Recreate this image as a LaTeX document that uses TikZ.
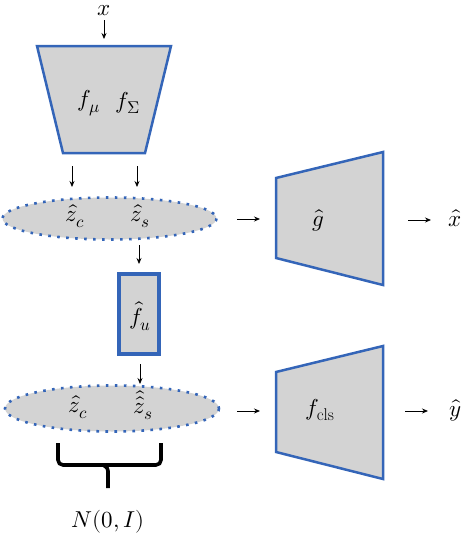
\documentclass[tikz,border=0pt]{standalone}
\usepackage{unicode-math}
\setmathfont{Latin Modern Math}
\DeclareMathSizes{23}{23}{17}{13}
\usetikzlibrary{arrows.meta}
\definecolor{bblue}{RGB}{52,101,184}
\definecolor{bgray}{RGB}{211,211,211}
\begin{document}
\begin{tikzpicture}[x=1pt,y=-1pt,
  lbl/.style={inner sep=0pt,font=\fontsize{23}{26}\selectfont},
  arr/.style={-{Stealth[length=6pt,width=5pt]},line width=0.8pt,black},
  boxshape/.style={fill=bgray,draw=bblue,line width=2.5pt,line join=miter},
  dotell/.style={fill=bgray,draw=bblue,line width=2.6pt,dash pattern=on 2.6pt off 6.4pt}]
\useasboundingbox (0,0) rectangle (464,542);
% encoder
\draw[boxshape] (37,46) -- (171,46) -- (145,153) -- (63,153) -- cycle;
\node[lbl] (fmu) at (89,103) {$f_{\mu}$};
\node[lbl] (fsig) at (128,103) {$f_{\Sigma}$};
\node[lbl] (x) at (104,11) {$x$};
\coordinate (xa) at (104,20);
\coordinate (xb) at (104,39);
\draw[arr] (xa) -- (xb);
\coordinate (e1a) at (72,166); \coordinate (e1b) at (72,187);
\coordinate (e2a) at (137,166); \coordinate (e2b) at (137,187);
\draw[arr] (e1a) -- (e1b);
\draw[arr] (e2a) -- (e2b);
% ellipse 1
\draw[dotell] (109.5,218.5) ellipse [x radius=107, y radius=21];
\node[lbl] (zc1) at (75,216) {$\hat{z}_{c}$};
\node[lbl] (zs1) at (140,216) {$\hat{z}_{s}$};
% arrow to fu
\coordinate (fa) at (139,245); \coordinate (fb) at (139,264);
\draw[arr] (fa) -- (fb);
\draw[fill=bgray,draw=bblue,line width=4pt] (119,274) rectangle (159,354);
\node[lbl] (fu) at (140,316) {$\hat{f}_{u}$};
\coordinate (ga) at (140,364); \coordinate (gb) at (140,384);
\draw[arr] (ga) -- (gb);
% ellipse 2
\draw[dotell] (112,408.5) ellipse [x radius=107, y radius=23];
\node[lbl] (zc2) at (78,407) {$\hat{z}_{c}$};
\node[lbl] (zs2) at (143,405) {$\hat{\hat{z}}_{s}$};
% brace
\draw[line width=3.6pt,line cap=butt,rounded corners=5pt] (58,443) -- (58,465) -- (161,465) -- (161,443);
\draw[line width=3.6pt,rounded corners=3pt] (103,465) -- (108,468) -- (108,488);
\node[lbl] (N) at (108,522) {$N(0,I)$};
% decoder g
\draw[boxshape] (276,178) -- (383,152) -- (383,285) -- (276,258) -- cycle;
\node[lbl] (g) at (318,220) {$\hat{g}$};
\coordinate (h1a) at (237,219); \coordinate (h1b) at (260,219);
\draw[arr] (h1a) -- (h1b);
\coordinate (h2a) at (408,220); \coordinate (h2b) at (431,220);
\draw[arr] (h2a) -- (h2b);
\node[lbl] (xh) at (455,218) {$\hat{x}$};
% classifier
\draw[boxshape] (276,372) -- (383,346) -- (383,479) -- (276,452) -- cycle;
\node[lbl] (fcls) at (320,410) {$f_{\mathrm{cls}}$};
\coordinate (k1a) at (237,411); \coordinate (k1b) at (260,411);
\draw[arr] (k1a) -- (k1b);
\coordinate (k2a) at (405,411); \coordinate (k2b) at (428,411);
\draw[arr] (k2a) -- (k2b);
\node[lbl] (yh) at (455,410) {$\hat{y}$};
\end{tikzpicture}
\end{document}
